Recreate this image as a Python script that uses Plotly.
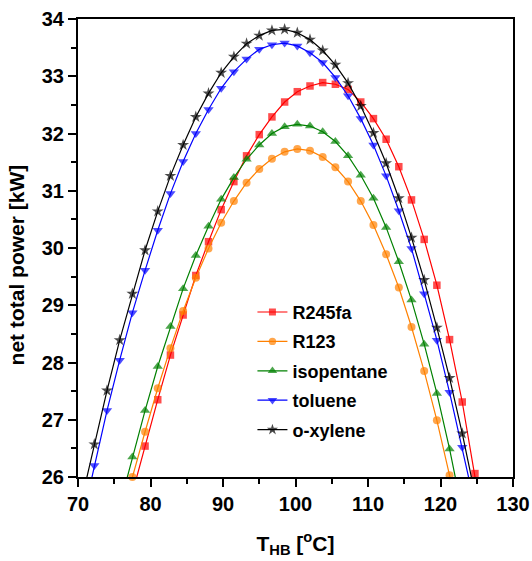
import plotly.graph_objects as go

# ---- data ----
x_r245fa = [77.50, 79.25, 81.00, 82.75, 84.50, 86.25, 88.00, 89.75, 91.50, 93.25, 95.00,
            96.75, 98.50, 100.25, 102.00, 103.75, 105.50, 107.25, 109.00, 110.75, 112.50,
            114.25, 116.00, 117.75, 119.50, 121.25, 123.00, 124.75, 126.50]
y_r245fa = [25.72, 26.54, 27.35, 28.13, 28.83, 29.52, 30.11, 30.67, 31.16, 31.61, 31.98,
            32.29, 32.55, 32.73, 32.83, 32.89, 32.86, 32.77, 32.55, 32.26, 31.90,
            31.42, 30.84, 30.15, 29.35, 28.40, 27.31, 26.06, 24.70]

x_r123 = [75.75, 77.50, 79.25, 81.00, 82.75, 84.50, 86.25, 88.00, 89.75, 91.50, 93.25,
          95.00, 96.75, 98.50, 100.25, 102.00, 103.75, 105.50, 107.25, 109.00, 110.75,
          112.50, 114.25, 116.00, 117.75, 119.50, 121.25, 123.00]
y_r123 = [25.20, 26.00, 26.79, 27.55, 28.25, 28.90, 29.48, 29.99, 30.44, 30.82, 31.14,
          31.38, 31.56, 31.68, 31.73, 31.70, 31.59, 31.41, 31.16, 30.82, 30.40,
          29.89, 29.31, 28.62, 27.85, 26.99, 26.03, 24.90]

x_isopentane = [75.75, 77.50, 79.25, 81.00, 82.75, 84.50, 86.25, 88.00, 89.75, 91.50, 93.25,
                95.00, 96.75, 98.50, 100.25, 102.00, 103.75, 105.50, 107.25, 109.00, 110.75,
                112.50, 114.25, 116.00, 117.75, 119.50, 121.25, 123.00]
y_isopentane = [25.50, 26.35, 27.16, 27.93, 28.63, 29.29, 29.87, 30.38, 30.85, 31.23, 31.55,
                31.80, 32.00, 32.12, 32.16, 32.13, 32.03, 31.86, 31.61, 31.27, 30.87,
                30.36, 29.76, 29.09, 28.32, 27.46, 26.49, 25.40]

x_toluene = [70.50, 72.25, 74.00, 75.75, 77.50, 79.25, 81.00, 82.75, 84.50, 86.25, 88.00,
             89.75, 91.50, 93.25, 95.00, 96.75, 98.50, 100.25, 102.00, 103.75, 105.50,
             107.25, 109.00, 110.75, 112.50, 114.25, 116.00, 117.75, 119.50, 121.25,
             123.00, 124.75]
y_toluene = [25.20, 26.20, 27.16, 28.04, 28.87, 29.61, 30.31, 30.95, 31.51, 32.00, 32.42,
             32.79, 33.08, 33.30, 33.47, 33.55, 33.58, 33.53, 33.41, 33.24, 32.98,
             32.66, 32.26, 31.80, 31.26, 30.65, 29.99, 29.20, 28.39, 27.48,
             26.52, 25.50]

x_oxylene = [70.50, 72.25, 74.00, 75.75, 77.50, 79.25, 81.00, 82.75, 84.50, 86.25, 88.00,
             89.75, 91.50, 93.25, 95.00, 96.75, 98.50, 100.25, 102.00, 103.75, 105.50,
             107.25, 109.00, 110.75, 112.50, 114.25, 116.00, 117.75, 119.50, 121.25,
             123.00, 124.75]
y_oxylene = [25.60, 26.57, 27.51, 28.39, 29.20, 29.96, 30.64, 31.26, 31.80, 32.29, 32.70,
             33.06, 33.34, 33.57, 33.71, 33.80, 33.82, 33.76, 33.64, 33.45, 33.20,
             32.88, 32.48, 32.01, 31.48, 30.87, 30.18, 29.44, 28.61, 27.73,
             26.76, 25.70]

names = ["R245fa", "R123", "isopentane", "toluene", "o-xylene"]
x_ticks = [70, 80, 90, 100, 110, 120, 130]
y_ticks = [26, 27, 28, 29, 30, 31, 32, 33, 34]
x_title = "T<sub>HB</sub> [<sup>o</sup>C]"
y_title = "net total power [kW]"

FONT = "Liberation Sans, Arial, sans-serif"
Y_MIN, Y_MAX = 26, 34

series = [
    (names[0], x_r245fa, y_r245fa, "#ff0000", "square", 7.5),
    (names[1], x_r123, y_r123, "#ff8000", "circle", 8),
    (names[2], x_isopentane, y_isopentane, "#008000", "triangle-up", 9),
    (names[3], x_toluene, y_toluene, "#0000ff", "triangle-down", 9),
    (names[4], x_oxylene, y_oxylene, "#000000", "star", 9),
]

fig = go.Figure()
for i, (nm, xs, ys, col, sym, sz) in enumerate(series):
    sizes = [sz if Y_MIN - 0.05 <= v <= Y_MAX else 0 for v in ys]
    fig.add_trace(go.Scatter(
        x=xs, y=ys, name=nm, mode="lines+markers",
        line=dict(color=col, width=1.2),
        marker=dict(symbol=sym, size=sizes, color=col, line=dict(width=0)),
        cliponaxis=False, legendgroup=f"g{i}",
    ))

fig.update_layout(
    width=532, height=561,
    margin=dict(l=78, r=19, t=19, b=84),
    paper_bgcolor="white", plot_bgcolor="white",
    showlegend=True,
    legend=dict(x=0.401, y=0.40, xanchor="left", yanchor="top",
                font=dict(family=FONT, size=18, color="black", weight="bold"),
                bgcolor="rgba(0,0,0,0)", tracegroupgap=3, itemwidth=30),
    font=dict(family=FONT, color="black"),
    annotations=[dict(
        text=y_title, xref="paper", yref="paper",
        x=-0.142, y=0.4625, xanchor="center", yanchor="middle",
        textangle=-90, showarrow=False,
        font=dict(family=FONT, size=21, color="black", weight="bold"),
    )],
)
fig.update_xaxes(
    range=[70, 130], tickvals=x_ticks, ticktext=[str(t) for t in x_ticks],
    ticks="outside", ticklen=8, tickwidth=2, tickcolor="black",
    minor=dict(dtick=5, ticks="outside", ticklen=5, tickwidth=2, tickcolor="black"),
    showline=True, linewidth=2, linecolor="black", mirror=True,
    showgrid=False, zeroline=False, automargin=False,
    tickfont=dict(family=FONT, size=20, color="black", weight="bold"),
    title=dict(text=x_title, standoff=22,
               font=dict(family=FONT, size=21, color="black", weight="bold")),
)
fig.update_yaxes(
    range=[26, 34], tickvals=y_ticks, ticktext=[str(t) for t in y_ticks],
    ticks="outside", ticklen=8, tickwidth=2, tickcolor="black",
    minor=dict(dtick=0.5, ticks="outside", ticklen=5, tickwidth=2, tickcolor="black"),
    showline=True, linewidth=2, linecolor="black", mirror=True,
    showgrid=False, zeroline=False, automargin=False,
    tickfont=dict(family=FONT, size=20, color="black", weight="bold"),
)

fig.write_html("out.html")
